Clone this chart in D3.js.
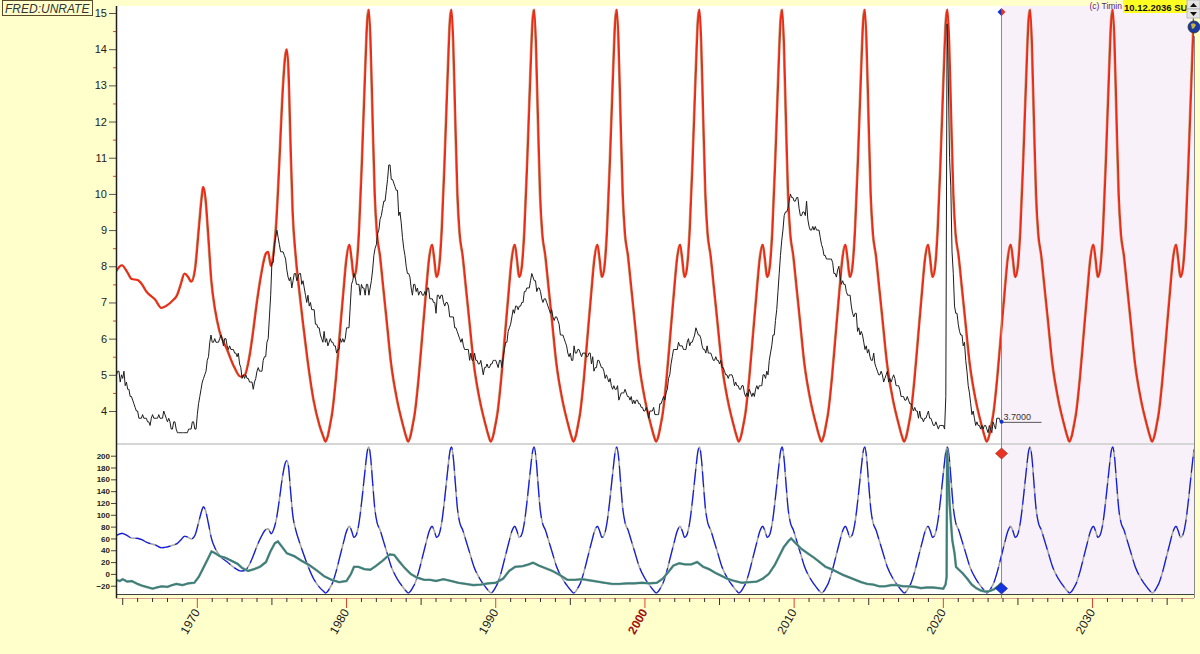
<!DOCTYPE html>
<html>
<head>
<meta charset="utf-8">
<script src="https://cdn.jsdelivr.net/npm/d3@7"></script>
<style>
  body { margin: 0; background: #ffffcc; }
  svg { display: block; font-family: Arial, "Liberation Sans", sans-serif; }
</style>
</head>
<body>
<svg id="chart" width="1200" height="654"></svg>
<script>
// ---- data ----
var yearTicks = [1970, 1980, 1990, 2000, 2010, 2020, 2030];
var upperTicks = [4, 5, 6, 7, 8, 9, 10, 11, 12, 13, 14, 15];
var lowerTicks = [-20, 0, 20, 40, 60, 80, 100, 120, 140, 160, 180, 200];
var lastDate = 2023.9;
var lastValue = 3.7;

// FRED UNRATE, monthly from July 1964
var unrateStart = 1964.5;
var unrate = [
  4.9, 5.0, 5.1, 5.1, 4.8, 5.0,
  4.9, 5.1, 4.7, 4.8, 4.6, 4.6, 4.4, 4.4, 4.3, 4.2, 4.1, 4.0,
  4.0, 3.8, 3.8, 3.8, 3.9, 3.8, 3.8, 3.8, 3.7, 3.7, 3.6, 3.8,
  3.9, 3.8, 3.8, 3.8, 3.8, 3.9, 3.8, 3.8, 3.8, 4.0, 3.9, 3.8,
  3.7, 3.8, 3.7, 3.5, 3.5, 3.7, 3.7, 3.5, 3.4, 3.4, 3.4, 3.4,
  3.4, 3.4, 3.4, 3.4, 3.4, 3.5, 3.5, 3.5, 3.7, 3.7, 3.5, 3.5,
  3.9, 4.2, 4.4, 4.6, 4.8, 4.9, 5.0, 5.1, 5.4, 5.5, 5.9, 6.1,
  5.9, 5.9, 6.0, 5.9, 5.9, 5.9, 6.0, 6.1, 6.0, 5.8, 6.0, 6.0,
  5.8, 5.7, 5.8, 5.7, 5.7, 5.7, 5.6, 5.6, 5.5, 5.6, 5.3, 5.2,
  4.9, 5.0, 4.9, 5.0, 4.9, 4.9, 4.8, 4.8, 4.8, 4.6, 4.8, 4.9,
  5.1, 5.2, 5.1, 5.1, 5.1, 5.4, 5.5, 5.5, 5.9, 6.0, 6.6, 7.2,
  8.1, 8.1, 8.6, 8.8, 9.0, 8.8, 8.6, 8.4, 8.4, 8.4, 8.3, 8.2,
  7.9, 7.7, 7.6, 7.7, 7.4, 7.6, 7.8, 7.8, 7.6, 7.7, 7.8, 7.8,
  7.5, 7.6, 7.4, 7.2, 7.0, 7.2, 6.9, 7.0, 6.8, 6.8, 6.8, 6.4,
  6.4, 6.3, 6.3, 6.1, 6.0, 5.9, 6.2, 5.9, 6.0, 5.8, 5.9, 6.0,
  5.9, 5.9, 5.8, 5.8, 5.6, 5.7, 5.7, 6.0, 5.9, 6.0, 5.9, 6.0,
  6.3, 6.3, 6.3, 6.9, 7.5, 7.6, 7.8, 7.7, 7.5, 7.5, 7.5, 7.2,
  7.5, 7.4, 7.4, 7.2, 7.5, 7.5, 7.2, 7.4, 7.6, 7.9, 8.3, 8.5,
  8.6, 8.9, 9.0, 9.3, 9.4, 9.6, 9.8, 9.8, 10.1, 10.4, 10.8, 10.8,
  10.4, 10.4, 10.3, 10.2, 10.1, 10.1, 9.4, 9.5, 9.2, 8.8, 8.5, 8.3,
  8.0, 7.8, 7.8, 7.7, 7.4, 7.2, 7.5, 7.5, 7.3, 7.4, 7.2, 7.3,
  7.3, 7.2, 7.2, 7.3, 7.2, 7.4, 7.4, 7.1, 7.1, 7.1, 7.0, 7.0,
  6.7, 7.2, 7.2, 7.1, 7.2, 7.2, 7.0, 6.9, 7.0, 7.0, 6.9, 6.6,
  6.6, 6.6, 6.6, 6.3, 6.3, 6.2, 6.1, 6.0, 5.9, 6.0, 5.8, 5.7,
  5.7, 5.7, 5.7, 5.4, 5.6, 5.4, 5.4, 5.6, 5.4, 5.4, 5.3, 5.3,
  5.4, 5.2, 5.0, 5.2, 5.2, 5.3, 5.2, 5.2, 5.3, 5.3, 5.4, 5.4,
  5.4, 5.3, 5.2, 5.4, 5.4, 5.2, 5.5, 5.7, 5.9, 5.9, 6.2, 6.3,
  6.4, 6.6, 6.8, 6.7, 6.9, 6.9, 6.8, 6.9, 6.9, 7.0, 7.0, 7.3,
  7.3, 7.4, 7.4, 7.4, 7.6, 7.8, 7.7, 7.6, 7.6, 7.3, 7.4, 7.4,
  7.3, 7.1, 7.0, 7.1, 7.1, 7.0, 6.9, 6.8, 6.7, 6.8, 6.6, 6.5,
  6.6, 6.6, 6.5, 6.4, 6.1, 6.1, 6.1, 6.0, 5.9, 5.8, 5.6, 5.5,
  5.6, 5.4, 5.4, 5.8, 5.6, 5.6, 5.7, 5.7, 5.6, 5.5, 5.6, 5.6,
  5.6, 5.5, 5.5, 5.6, 5.6, 5.3, 5.5, 5.1, 5.2, 5.2, 5.4, 5.4,
  5.3, 5.2, 5.2, 5.1, 4.9, 5.0, 4.9, 4.8, 4.9, 4.7, 4.6, 4.7,
  4.6, 4.6, 4.7, 4.3, 4.4, 4.5, 4.5, 4.5, 4.6, 4.5, 4.4, 4.4,
  4.3, 4.4, 4.2, 4.3, 4.2, 4.3, 4.3, 4.2, 4.2, 4.1, 4.1, 4.0,
  4.0, 4.1, 4.0, 3.8, 4.0, 4.0, 4.0, 4.1, 3.9, 3.9, 3.9, 3.9,
  4.2, 4.2, 4.3, 4.4, 4.3, 4.5, 4.6, 4.9, 5.0, 5.3, 5.5, 5.7,
  5.7, 5.7, 5.7, 5.9, 5.8, 5.8, 5.8, 5.7, 5.7, 5.7, 5.9, 6.0,
  5.8, 5.9, 5.9, 6.0, 6.1, 6.3, 6.2, 6.1, 6.1, 6.0, 5.8, 5.7,
  5.7, 5.6, 5.8, 5.6, 5.6, 5.6, 5.5, 5.4, 5.4, 5.5, 5.4, 5.4,
  5.3, 5.4, 5.2, 5.2, 5.1, 5.0, 5.0, 4.9, 5.0, 5.0, 5.0, 4.9,
  4.7, 4.8, 4.7, 4.7, 4.6, 4.6, 4.7, 4.7, 4.5, 4.4, 4.5, 4.4,
  4.6, 4.5, 4.4, 4.5, 4.4, 4.6, 4.7, 4.6, 4.7, 4.7, 4.7, 5.0,
  5.0, 4.9, 5.1, 5.0, 5.4, 5.6, 5.8, 6.1, 6.1, 6.5, 6.8, 7.3,
  7.8, 8.3, 8.7, 9.0, 9.4, 9.5, 9.5, 9.6, 9.8, 10.0, 9.9, 9.9,
  9.8, 9.8, 9.9, 9.9, 9.6, 9.4, 9.4, 9.5, 9.5, 9.4, 9.8, 9.3,
  9.1, 9.0, 9.0, 9.1, 9.0, 9.1, 9.0, 9.0, 9.0, 8.8, 8.6, 8.5,
  8.3, 8.3, 8.2, 8.2, 8.2, 8.2, 8.2, 8.1, 7.8, 7.8, 7.7, 7.9,
  8.0, 7.7, 7.5, 7.6, 7.5, 7.5, 7.3, 7.2, 7.2, 7.2, 6.9, 6.7,
  6.6, 6.7, 6.7, 6.2, 6.3, 6.1, 6.2, 6.1, 5.9, 5.7, 5.8, 5.6,
  5.7, 5.5, 5.4, 5.4, 5.6, 5.3, 5.2, 5.1, 5.0, 5.0, 5.1, 5.0,
  4.8, 4.9, 5.0, 5.1, 4.8, 4.9, 4.8, 4.9, 5.0, 4.9, 4.7, 4.7,
  4.7, 4.6, 4.4, 4.4, 4.4, 4.3, 4.3, 4.4, 4.3, 4.2, 4.2, 4.1,
  4.0, 4.1, 4.0, 4.0, 3.8, 4.0, 3.8, 3.8, 3.7, 3.8, 3.8, 3.9,
  4.0, 3.8, 3.8, 3.7, 3.6, 3.6, 3.7, 3.6, 3.5, 3.6, 3.6, 3.6,
  3.6, 3.5, 4.4, 14.7, 13.2, 11.0, 10.2, 8.4, 7.8, 6.9, 6.7, 6.7,
  6.4, 6.2, 6.1, 6.1, 5.8, 5.9, 5.4, 5.1, 4.7, 4.5, 4.2, 3.9,
  4.0, 3.8, 3.6, 3.7, 3.6, 3.6, 3.5, 3.6, 3.5, 3.6, 3.6, 3.5,
  3.4, 3.6, 3.5, 3.4, 3.7, 3.6, 3.5, 3.8, 3.8, 3.8, 3.7
];

// cyclic projection (red on top, blue below), [year, value]
var projection = [
  [1964.55, 7.85], [1964.95, 8.03], [1965.3, 7.85], [1965.6, 7.65], [1966.0, 7.62], [1966.3, 7.5],
  [1966.6, 7.3], [1967.2, 7.07], [1967.6, 6.85], [1967.9, 6.9], [1968.4, 7.07], [1968.65, 7.2],
  [1968.9, 7.5], [1969.15, 7.8], [1969.4, 7.7], [1969.6, 7.57], [1969.85, 7.9], [1970.1, 9.0],
  [1970.3, 9.9], [1970.4, 10.2], [1970.55, 9.9], [1970.75, 8.8], [1970.95, 7.6], [1971.2, 6.8],
  [1971.5, 6.2], [1972.0, 5.7], [1972.5, 5.2], [1972.9, 4.95], [1973.2, 5.0], [1973.5, 5.5],
  [1973.75, 6.2], [1974.0, 7.0], [1974.3, 7.8], [1974.6, 8.35], [1974.75, 8.4], [1974.95, 8.0],
  [1975.1, 8.3], [1975.3, 9.2], [1975.5, 10.8], [1975.7, 12.6], [1975.9, 13.8], [1976.0, 14.0],
  [1976.12, 13.4], [1976.25, 11.5], [1976.4, 9.5], [1976.6, 8.3], [1976.85, 7.3], [1977.1, 6.4],
  [1977.4, 5.4], [1977.8, 4.3], [1978.2, 3.6], [1978.45, 3.3],
  // 1981 cycle
  [1978.60, 3.15], [1978.75, 3.3], [1978.90, 3.6], [1979.05, 3.95], [1979.30, 4.9], [1979.55, 6.1], [1979.80, 7.3],
  [1980.00, 8.2], [1980.20, 8.6], [1980.35, 8.2], [1980.50, 7.7], [1980.65, 7.9], [1980.85, 9.0], [1981.05, 11.0],
  [1981.25, 13.3], [1981.40, 14.8], [1981.50, 15.1], [1981.62, 14.2], [1981.75, 12.2], [1981.90, 10.0], [1982.05, 8.9],
  [1982.25, 8.3], [1982.45, 7.5], [1982.70, 6.5], [1983.00, 5.3], [1983.40, 4.3], [1983.80, 3.6], [1984.00, 3.3],
  // 1987 cycle
  [1984.14, 3.15], [1984.29, 3.3], [1984.44, 3.6], [1984.59, 3.95], [1984.84, 4.9], [1985.09, 6.1], [1985.34, 7.3],
  [1985.54, 8.2], [1985.74, 8.6], [1985.89, 8.2], [1986.04, 7.7], [1986.19, 7.9], [1986.39, 9.0], [1986.59, 11.0],
  [1986.79, 13.3], [1986.94, 14.8], [1987.04, 15.1], [1987.16, 14.2], [1987.29, 12.2], [1987.44, 10.0], [1987.59, 8.9],
  [1987.79, 8.3], [1987.99, 7.5], [1988.24, 6.5], [1988.54, 5.3], [1988.94, 4.3], [1989.34, 3.6], [1989.54, 3.3],
  // 1992 cycle
  [1989.68, 3.15], [1989.83, 3.3], [1989.98, 3.6], [1990.13, 3.95], [1990.38, 4.9], [1990.63, 6.1], [1990.88, 7.3],
  [1991.08, 8.2], [1991.28, 8.6], [1991.43, 8.2], [1991.58, 7.7], [1991.73, 7.9], [1991.93, 9.0], [1992.13, 11.0],
  [1992.33, 13.3], [1992.48, 14.8], [1992.58, 15.1], [1992.70, 14.2], [1992.83, 12.2], [1992.98, 10.0], [1993.13, 8.9],
  [1993.33, 8.3], [1993.53, 7.5], [1993.78, 6.5], [1994.08, 5.3], [1994.48, 4.3], [1994.88, 3.6], [1995.08, 3.3],
  // 1998 cycle
  [1995.22, 3.15], [1995.37, 3.3], [1995.52, 3.6], [1995.67, 3.95], [1995.92, 4.9], [1996.17, 6.1], [1996.42, 7.3],
  [1996.62, 8.2], [1996.82, 8.6], [1996.97, 8.2], [1997.12, 7.7], [1997.27, 7.9], [1997.47, 9.0], [1997.67, 11.0],
  [1997.87, 13.3], [1998.02, 14.8], [1998.12, 15.1], [1998.24, 14.2], [1998.37, 12.2], [1998.52, 10.0], [1998.67, 8.9],
  [1998.87, 8.3], [1999.07, 7.5], [1999.32, 6.5], [1999.62, 5.3], [2000.02, 4.3], [2000.42, 3.6], [2000.62, 3.3],
  // 2003 cycle
  [2000.76, 3.15], [2000.91, 3.3], [2001.06, 3.6], [2001.21, 3.95], [2001.46, 4.9], [2001.71, 6.1], [2001.96, 7.3],
  [2002.16, 8.2], [2002.36, 8.6], [2002.51, 8.2], [2002.66, 7.7], [2002.81, 7.9], [2003.01, 9.0], [2003.21, 11.0],
  [2003.41, 13.3], [2003.56, 14.8], [2003.66, 15.1], [2003.78, 14.2], [2003.91, 12.2], [2004.06, 10.0], [2004.21, 8.9],
  [2004.41, 8.3], [2004.61, 7.5], [2004.86, 6.5], [2005.16, 5.3], [2005.56, 4.3], [2005.96, 3.6], [2006.16, 3.3],
  // 2009 cycle
  [2006.30, 3.15], [2006.45, 3.3], [2006.60, 3.6], [2006.75, 3.95], [2007.00, 4.9], [2007.25, 6.1], [2007.50, 7.3],
  [2007.70, 8.2], [2007.90, 8.6], [2008.05, 8.2], [2008.20, 7.7], [2008.35, 7.9], [2008.55, 9.0], [2008.75, 11.0],
  [2008.95, 13.3], [2009.10, 14.8], [2009.20, 15.1], [2009.32, 14.2], [2009.45, 12.2], [2009.60, 10.0], [2009.75, 8.9],
  [2009.95, 8.3], [2010.15, 7.5], [2010.40, 6.5], [2010.70, 5.3], [2011.10, 4.3], [2011.50, 3.6], [2011.70, 3.3],
  // 2014 cycle
  [2011.84, 3.15], [2011.99, 3.3], [2012.14, 3.6], [2012.29, 3.95], [2012.54, 4.9], [2012.79, 6.1], [2013.04, 7.3],
  [2013.24, 8.2], [2013.44, 8.6], [2013.59, 8.2], [2013.74, 7.7], [2013.89, 7.9], [2014.09, 9.0], [2014.29, 11.0],
  [2014.49, 13.3], [2014.64, 14.8], [2014.74, 15.1], [2014.86, 14.2], [2014.99, 12.2], [2015.14, 10.0], [2015.29, 8.9],
  [2015.49, 8.3], [2015.69, 7.5], [2015.94, 6.5], [2016.24, 5.3], [2016.64, 4.3], [2017.04, 3.6], [2017.24, 3.3],
  // 2020 cycle
  [2017.38, 3.15], [2017.53, 3.3], [2017.68, 3.6], [2017.83, 3.95], [2018.08, 4.9], [2018.33, 6.1], [2018.58, 7.3],
  [2018.78, 8.2], [2018.98, 8.6], [2019.13, 8.2], [2019.28, 7.7], [2019.43, 7.9], [2019.63, 9.0], [2019.83, 11.0],
  [2020.03, 13.3], [2020.18, 14.8], [2020.28, 15.1], [2020.40, 14.2], [2020.53, 12.2], [2020.68, 10.0], [2020.83, 8.9],
  [2021.03, 8.3], [2021.23, 7.5], [2021.48, 6.5], [2021.78, 5.3], [2022.18, 4.3], [2022.58, 3.6], [2022.78, 3.3],
  // 2025 cycle
  [2022.92, 3.15], [2023.07, 3.3], [2023.22, 3.6], [2023.37, 3.95], [2023.62, 4.9], [2023.87, 6.1], [2024.12, 7.3],
  [2024.32, 8.2], [2024.52, 8.6], [2024.67, 8.2], [2024.82, 7.7], [2024.97, 7.9], [2025.17, 9.0], [2025.37, 11.0],
  [2025.57, 13.3], [2025.72, 14.8], [2025.82, 15.1], [2025.94, 14.2], [2026.07, 12.2], [2026.22, 10.0], [2026.37, 8.9],
  [2026.57, 8.3], [2026.77, 7.5], [2027.02, 6.5], [2027.32, 5.3], [2027.72, 4.3], [2028.12, 3.6], [2028.32, 3.3],
  // 2031 cycle
  [2028.46, 3.15], [2028.61, 3.3], [2028.76, 3.6], [2028.91, 3.95], [2029.16, 4.9], [2029.41, 6.1], [2029.66, 7.3],
  [2029.86, 8.2], [2030.06, 8.6], [2030.21, 8.2], [2030.36, 7.7], [2030.51, 7.9], [2030.71, 9.0], [2030.91, 11.0],
  [2031.11, 13.3], [2031.26, 14.8], [2031.36, 15.1], [2031.48, 14.2], [2031.61, 12.2], [2031.76, 10.0], [2031.91, 8.9],
  [2032.11, 8.3], [2032.31, 7.5], [2032.56, 6.5], [2032.86, 5.3], [2033.26, 4.3], [2033.66, 3.6], [2033.86, 3.3],
  // 2036 cycle
  [2034.00, 3.15], [2034.15, 3.3], [2034.30, 3.6], [2034.45, 3.95], [2034.70, 4.9], [2034.95, 6.1], [2035.20, 7.3],
  [2035.40, 8.2], [2035.60, 8.6], [2035.75, 8.2], [2035.90, 7.7], [2036.05, 7.9], [2036.25, 9.0], [2036.45, 11.0],
  [2036.65, 13.3], [2036.80, 14.8], [2036.90, 15.1]
];

// lower panel oscillator, [year, value]
var oscillator = [
  [1964.55, -10], [1964.8, -12], [1965.0, -9], [1965.3, -13], [1965.6, -12], [1966.0, -17], [1966.3, -20],
  [1966.6, -22], [1967.0, -25], [1967.3, -23], [1967.6, -21], [1968.0, -22], [1968.3, -19], [1968.6, -17],
  [1969.0, -19], [1969.4, -16], [1969.8, -15], [1970.1, -5], [1970.4, 10], [1970.7, 25], [1970.95, 38],
  [1971.2, 35], [1971.5, 30], [1971.9, 27], [1972.3, 22], [1972.7, 17], [1973.0, 10], [1973.4, 5],
  [1973.8, 8], [1974.2, 12], [1974.6, 20], [1974.9, 38], [1975.2, 52], [1975.4, 55], [1975.7, 45],
  [1976.0, 35], [1976.5, 30], [1977.0, 22], [1977.5, 15], [1978.0, 6], [1978.5, -4], [1979.0, -10],
  [1979.5, -14], [1980.0, -12], [1980.3, 0], [1980.5, 12], [1980.8, 12], [1981.2, 8], [1981.6, 7],
  [1982.0, 14], [1982.4, 22], [1982.9, 33], [1983.2, 32], [1983.5, 22], [1983.9, 10], [1984.3, 0],
  [1984.7, -6], [1985.2, -10], [1985.6, -10], [1986.0, -12], [1986.5, -9], [1987.0, -12], [1987.5, -15],
  [1988.0, -17], [1988.5, -19], [1989.0, -18], [1989.5, -16], [1990.0, -15], [1990.5, -8], [1990.9, 5],
  [1991.3, 12], [1991.8, 13], [1992.2, 16], [1992.5, 19], [1992.9, 14], [1993.3, 10], [1993.8, 5],
  [1994.3, -2], [1994.8, -10], [1995.3, -10], [1995.8, -9], [1996.3, -11], [1996.8, -13], [1997.3, -15],
  [1997.8, -17], [1998.3, -17], [1998.8, -16], [1999.3, -16], [1999.8, -15], [2000.3, -16], [2000.8, -15],
  [2001.2, -8], [2001.6, 4], [2001.9, 14], [2002.3, 18], [2002.7, 16], [2003.1, 16], [2003.5, 20],
  [2003.9, 12], [2004.3, 8], [2004.7, 2], [2005.1, -3], [2005.5, -8], [2006.0, -12], [2006.5, -15],
  [2007.0, -14], [2007.5, -13], [2007.9, -8], [2008.3, 0], [2008.7, 15], [2009.0, 30], [2009.3, 45],
  [2009.6, 55], [2009.8, 60], [2010.1, 52], [2010.5, 42], [2010.9, 35], [2011.3, 28], [2011.7, 20],
  [2012.1, 12], [2012.5, 8], [2012.9, 3], [2013.3, -2], [2013.7, -6], [2014.1, -10], [2014.5, -14],
  [2014.9, -17], [2015.3, -18], [2015.7, -21], [2016.1, -21], [2016.5, -19], [2016.9, -19], [2017.3, -21],
  [2017.7, -21], [2018.1, -22], [2018.5, -24], [2018.9, -23], [2019.3, -23], [2019.7, -24], [2020.0, -25],
  [2020.15, -18], [2020.22, -5], [2020.25, 210], [2020.33, 170], [2020.42, 120], [2020.5, 90], [2020.6, 57],
  [2020.75, 35], [2020.85, 12], [2021.0, 8], [2021.3, 1], [2021.6, -8], [2021.9, -18], [2022.2, -24],
  [2022.5, -28], [2022.8, -30], [2023.1, -29], [2023.4, -26], [2023.7, -20], [2023.9, -15]
];

// ---- layout ----
var svg = d3.select('#chart');
var left = 116, right = 1194;
var upTop = 6, upBottom = 443, lowTop = 445, lowBottom = 594;

var x = d3.scaleLinear().domain([1964.55, 2036.8]).range([left, right]);
var yUp = d3.scaleLinear().domain([4, 15]).range([411, 13]);
var yLow = d3.scaleLinear().domain([0, 200]).range([573.9, 455.7]);
var yProjLow = d3.scaleLinear().domain([3.15, 15.1]).range([593, 447]);

svg.append('rect').attr('width', 1200).attr('height', 654).attr('fill', '#ffffcc');

// plot backgrounds
svg.append('rect').attr('x', left).attr('y', upTop).attr('width', right - left).attr('height', lowBottom - upTop).attr('fill', '#ffffff');
svg.append('rect').attr('x', x(lastDate)).attr('y', upTop).attr('width', right - x(lastDate)).attr('height', lowBottom - upTop).attr('fill', '#f9f1f9');

var defs = svg.append('defs');
defs.append('clipPath').attr('id', 'clipUp').append('rect')
  .attr('x', left + 1).attr('y', upTop).attr('width', right - left - 1).attr('height', upBottom - upTop);
defs.append('clipPath').attr('id', 'clipLow').append('rect')
  .attr('x', left + 1).attr('y', lowTop + 1).attr('width', right - left - 1).attr('height', lowBottom - lowTop - 1);

// separator between panels
svg.append('rect').attr('x', left).attr('y', upBottom).attr('width', right - left).attr('height', 2).attr('fill', '#d6d6d6');

// ---- upper panel ----
var gUp = svg.append('g').attr('clip-path', 'url(#clipUp)');
var lineProj = d3.line().x(function (d) { return x(d[0]); }).y(function (d) { return yUp(d[1]); }).curve(d3.curveMonotoneX);
var lineUnrate = d3.line().x(function (d, i) { return x(unrateStart + i / 12); }).y(function (d) { return yUp(d); });

gUp.append('path').datum(projection).attr('d', lineProj)
  .attr('fill', 'none').attr('stroke', '#b8a47c').attr('stroke-width', 1.2).attr('transform', 'translate(-1,0)');
gUp.append('path').datum(projection).attr('d', lineProj)
  .attr('fill', 'none').attr('stroke', '#ee2a14').attr('stroke-width', 2);
gUp.append('path').datum(unrate).attr('d', lineUnrate)
  .attr('fill', 'none').attr('stroke', '#1c1c1c').attr('stroke-width', 1);

// ---- lower panel ----
var gLow = svg.append('g').attr('clip-path', 'url(#clipLow)');
var lineProjLow = d3.line().x(function (d) { return x(d[0]); }).y(function (d) { return yProjLow(d[1]); }).curve(d3.curveMonotoneX);
var lineOsc = d3.line().x(function (d) { return x(d[0]); }).y(function (d) { return yLow(d[1]); });

gLow.append('path').datum(projection).attr('d', lineProjLow)
  .attr('fill', 'none').attr('stroke', '#a6a6a6').attr('stroke-width', 1.6);
gLow.append('path').datum(projection).attr('d', lineProjLow)
  .attr('fill', 'none').attr('stroke', '#0a14f0').attr('stroke-width', 1.1).attr('stroke-dasharray', '16,5');
gLow.append('path').datum(oscillator).attr('d', lineOsc)
  .attr('fill', 'none').attr('stroke', '#9fb5b0').attr('stroke-width', 2.6);
gLow.append('path').datum(oscillator).attr('d', lineOsc)
  .attr('fill', 'none').attr('stroke', '#3b7d77').attr('stroke-width', 1.8);

// bottom border of lower panel
svg.append('line').attr('x1', left).attr('x2', right).attr('y1', lowBottom + 0.5).attr('y2', lowBottom + 0.5)
  .attr('stroke', '#404040').attr('stroke-width', 1.2);

// ---- axes ----
var axUp = svg.append('g').attr('transform', 'translate(' + left + ',0)')
  .call(d3.axisLeft(yUp).tickValues(upperTicks).tickSize(7).tickPadding(2));
axUp.select('.domain').remove();
axUp.selectAll('line').attr('stroke', '#555');
axUp.selectAll('text').attr('font-size', 11).attr('fill', '#222').attr('font-family', 'Arial, Liberation Sans, sans-serif');

var halfTicks = upperTicks.slice(0, -1).map(function (v) { return v + 0.5; });
var axUpMinor = svg.append('g').attr('transform', 'translate(' + left + ',0)')
  .call(d3.axisLeft(yUp).tickValues(halfTicks).tickSize(3).tickFormat(''));
axUpMinor.select('.domain').remove();
axUpMinor.selectAll('line').attr('stroke', '#d04a30');

var axLow = svg.append('g').attr('transform', 'translate(' + left + ',0)')
  .call(d3.axisLeft(yLow).tickValues(lowerTicks).tickSize(5).tickPadding(1));
axLow.select('.domain').remove();
axLow.selectAll('line').attr('stroke', '#444');
axLow.selectAll('text').attr('font-size', 8).attr('font-weight', 'bold').attr('fill', '#222').attr('font-family', 'Arial, Liberation Sans, sans-serif');

// left axis line
svg.append('line').attr('x1', left + 0.5).attr('x2', left + 0.5).attr('y1', upTop).attr('y2', 598)
  .attr('stroke', '#202020').attr('stroke-width', 1.5);

// time axis
var years = d3.range(1965, 2037);
var axBase = 598;
svg.append('line').attr('x1', left).attr('x2', right).attr('y1', axBase + 0.5).attr('y2', axBase + 0.5)
  .attr('stroke', '#d8a090').attr('stroke-width', 1);
svg.append('g').selectAll('line').data(years).enter().append('line')
  .attr('x1', function (d) { return x(d); }).attr('x2', function (d) { return x(d); })
  .attr('y1', axBase)
  .attr('y2', function (d) { return d % 10 === 0 ? axBase + 10 : (d % 5 === 0 ? axBase + 7 : axBase + 4); })
  .attr('stroke', function (d) { return d % 10 === 0 ? '#e0402c' : '#333'; })
  .attr('stroke-width', 1);

svg.append('g').selectAll('text').data(yearTicks).enter().append('text')
  .attr('transform', function (d) { return 'translate(' + (x(d) + 3) + ',612) rotate(-60)'; })
  .attr('text-anchor', 'end')
  .attr('font-size', 12)
  .attr('font-weight', function (d) { return d === 2000 ? 'bold' : 'normal'; })
  .attr('fill', function (d) { return d === 2000 ? '#a01010' : '#222'; })
  .text(function (d) { return d; });

// right border
svg.append('line').attr('x1', right + 0.5).attr('x2', right + 0.5).attr('y1', 36).attr('y2', 598)
  .attr('stroke', '#8a8a8a').attr('stroke-width', 1);

// ---- current date marker ----
var xNow = x(lastDate);
svg.append('line').attr('x1', xNow).attr('x2', xNow).attr('y1', 10).attr('y2', 598)
  .attr('stroke', '#8c8c8c').attr('stroke-width', 1);
svg.append('path').attr('d', 'M' + xNow + ',8 L' + (xNow + 4) + ',12 L' + xNow + ',16 Z').attr('fill', '#e83020');
svg.append('path').attr('d', 'M' + xNow + ',8 L' + (xNow - 4) + ',12 L' + xNow + ',16 Z').attr('fill', '#1030d0');
svg.append('path').attr('d', 'M' + xNow + ',448 L' + (xNow + 6) + ',453.5 L' + xNow + ',459 L' + (xNow - 6) + ',453.5 Z')
  .attr('fill', '#e83424').attr('stroke', '#a01808').attr('stroke-width', 0.6);
svg.append('path').attr('d', 'M' + xNow + ',583 L' + (xNow + 6) + ',588.5 L' + xNow + ',594 L' + (xNow - 6) + ',588.5 Z')
  .attr('fill', '#1434e0').attr('stroke', '#081890').attr('stroke-width', 0.6);

svg.append('line').attr('x1', xNow).attr('x2', xNow + 40).attr('y1', yUp(lastValue) + 0.5).attr('y2', yUp(lastValue) + 0.5)
  .attr('stroke', '#555').attr('stroke-width', 1);
svg.append('circle').attr('cx', xNow).attr('cy', yUp(lastValue)).attr('r', 2).attr('fill', '#1030d0');
svg.append('text').attr('x', xNow + 2).attr('y', yUp(lastValue) - 2).attr('font-size', 9).attr('fill', '#333').text(lastValue.toFixed(4));

// ---- header ----
svg.append('rect').attr('x', 2.5).attr('y', 0.5).attr('width', 90).attr('height', 15)
  .attr('fill', '#ffffcc').attr('stroke', '#5a4a2a').attr('stroke-width', 1);
svg.append('text').attr('x', 5).attr('y', 12.5).attr('font-size', 12).attr('font-style', 'italic')
  .attr('fill', '#333').text('FRED:UNRATE');

svg.append('text').attr('x', 1122).attr('y', 9).attr('text-anchor', 'end').attr('font-size', 8.5)
  .attr('fill', '#602080').text('(c) Timin');
svg.append('rect').attr('x', 1123).attr('y', 0).attr('width', 64).attr('height', 13).attr('fill', '#ffff22');
svg.append('text').attr('x', 1124).attr('y', 10.5).attr('font-size', 9.5).attr('font-weight', 'bold').attr('fill', '#111').text('10.12.2036 SU');

// small scroll buttons and globe
svg.append('rect').attr('x', 1187).attr('y', 0).attr('width', 13).attr('height', 9).attr('fill', '#e4e4e4').attr('stroke', '#bbb');
svg.append('rect').attr('x', 1187).attr('y', 9).attr('width', 13).attr('height', 9).attr('fill', '#e4e4e4').attr('stroke', '#bbb');
svg.append('path').attr('d', 'M1190,7 L1193.5,3 L1197,7 Z').attr('fill', '#111');
svg.append('path').attr('d', 'M1190,12 L1193.5,16 L1197,12 Z').attr('fill', '#111');
svg.append('circle').attr('cx', 1194).attr('cy', 27).attr('r', 6).attr('fill', '#1a3aa0').attr('stroke', '#333').attr('stroke-width', 0.8);
svg.append('path').attr('d', 'M1191,24 Q1194,22 1196,25 Q1195,28 1192,29 Z').attr('fill', '#c8b040');
</script>
</body>
</html>
